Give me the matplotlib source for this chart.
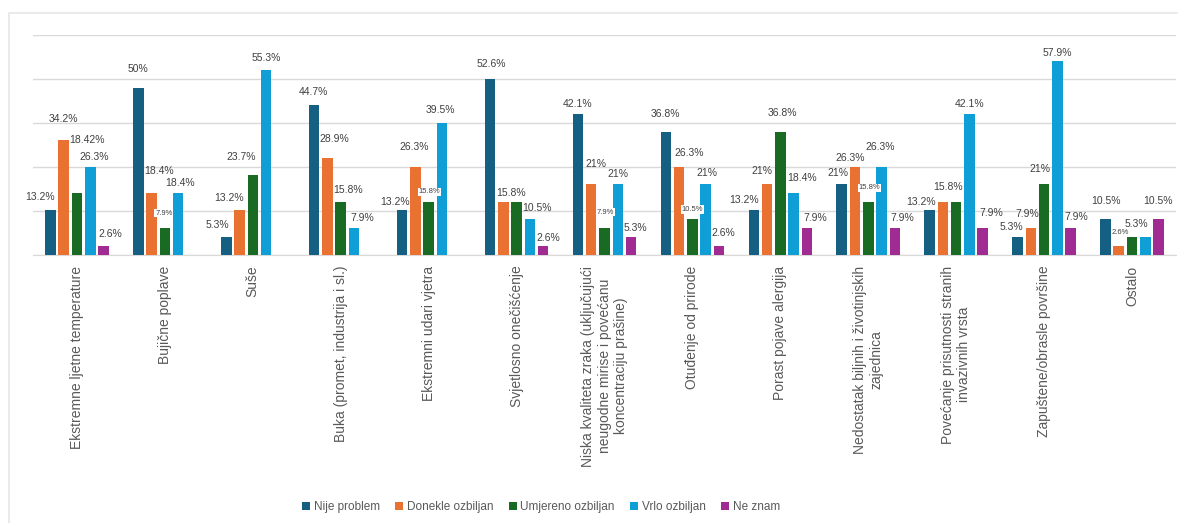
import numpy as np
import matplotlib
matplotlib.use("Agg")
import matplotlib.pyplot as plt
from matplotlib.patches import Rectangle

plt.rcParams['font.family'] = ['Liberation Sans', 'DejaVu Sans']

# --------------------------- data ---------------------------

categories = [
    "Ekstremne ljetne temperature",
    "Bujične poplave",
    "Suše",
    "Buka (promet, industrija i sl.)",
    "Ekstremni udari vjetra",
    "Svjetlosno onečišćenje",
    "Niska kvaliteta zraka (uključujući\nneugodne mirise i povećanu\nkoncentraciju prašine)",
    "Otuđenje od prirode",
    "Porast pojave alergija",
    "Nedostatak biljnih i životinjskih\nzajednica",
    "Povećanje prisutnosti stranih\ninvazivnih vrsta",
    "Zapuštene/obrasle površine",
    "Ostalo",
]

series_names = ["Nije problem", "Donekle ozbiljan", "Umjereno ozbiljan",
                "Vrlo ozbiljan", "Ne znam"]
colors = ["#156082", "#E97132", "#196B24", "#0F9ED5", "#A02B93"]

nije_problem = [13.2, 50, 5.3, 44.7, 13.2, 52.6, 42.1, 36.8, 13.2, 21, 13.2, 5.3, 10.5]
donekle      = [34.2, 18.4, 13.2, 28.9, 26.3, 15.8, 21, 26.3, 21, 26.3, 15.8, 7.9, 2.6]
umjereno     = [18.42, 7.9, 23.7, 15.8, 15.8, 15.8, 7.9, 10.5, 36.8, 15.8, 15.8, 21, 5.3]
vrlo         = [26.3, 18.4, 55.3, 7.9, 39.5, 10.5, 21, 21, 18.4, 26.3, 42.1, 57.9, 5.3]
ne_znam      = [2.6, 0, 0, 0, 0, 2.6, 5.3, 2.6, 7.9, 7.9, 7.9, 7.9, 10.5]

series = [nije_problem, donekle, umjereno, vrlo, ne_znam]

# --------------------- label placement ----------------------
# (series index, category index) of labels not shown / drawn tiny in the original
hidden_labels = {(2, 5), (2, 10), (3, 12)}
tiny_labels = {(2, 1), (2, 4), (2, 6), (2, 7), (2, 9), (1, 12)}

# horizontal nudge and height above the bar top of each label centre, in pixels
label_dx = [
    [-10, 0, -9, -1, -7, 1, 0, 0, -10, -4, -9, -6, 0],
    [0, 7, -11, 7, -1, 8, 5, 10, -5, -5, 5, -4, 2],
    [10, -1, -12, 7, 1, 0, 1, 0, 2, 1, 0, -4, 4],
    [4, 2, 0, 8, -2, 7, 0, 1, 8, -1, 0, 0, 0],
    [7, 0, 0, 0, 0, 5, 4, 4, 8, 7, 9, 6, -1],
]
label_dy = [
    [13, 19, 12, 13, 8, 15, 10, 18, 10, 11, 8, 10, 18],
    [21, 22, 12, 19, 20, 9, 20, 14, 13, 9, 15, 14, 13],
    [53, 15, 18, 12, 10, 13, 16, 10, 19, 14, 13, 15, 13],
    [10, 10, 12, 10, 13, 11, 10, 11, 15, 20, 10, 8, 13],
    [12, 13, 13, 13, 13, 8, 9, 13, 10, 10, 15, 11, 18],
]

# --------------------------- plot ---------------------------

W, H = 1178, 523
fig = plt.figure(figsize=(W / 100, H / 100), dpi=100)
ax = fig.add_axes([33 / W, 1 - 254.5 / H, 1143 / W, 219.5 / H])

# light frame around the chart area
fig.patches.append(Rectangle((9 / W, -0.05), 1.2, 1 - 13 / H + 0.05,
                             transform=fig.transFigure, fill=False,
                             edgecolor="#e6e6e6", lw=1.2))

x = np.arange(len(categories))
step = 0.151
width = 0.12
offsets = (np.arange(5) - 2) * step

for i, (vals, name, col) in enumerate(zip(series, series_names, colors)):
    bars = ax.bar(x + offsets[i], vals, width=width, color=col, label=name, zorder=3)
    for j, (b, v) in enumerate(zip(bars, vals)):
        if v == 0 or (i, j) in hidden_labels:
            continue
        small = (i, j) in tiny_labels
        kw = {}
        if small:
            kw["bbox"] = dict(boxstyle="square,pad=0.1", fc="white", ec="none")
        ax.annotate(f"{v:g}%", (b.get_x() + b.get_width() / 2, v),
                    xytext=(label_dx[i][j], label_dy[i][j]),
                    textcoords="offset pixels", ha="center", va="center",
                    fontsize=5.5 if small else 7.5, color="#404040",
                    zorder=4, **kw)

# gridlines every 5 respondents out of 38
ax.set_ylim(0, 25 * 100 / 38)
ax.set_yticks(np.arange(0, 26, 5) * 100 / 38)
ax.yaxis.grid(True, color="#d9d9d9", lw=1, zorder=0)
ax.tick_params(axis="y", left=False, labelleft=False)
ax.set_xlim(-0.5, len(categories) - 0.5)

ax.set_xticks(x)
ax.set_xticklabels(categories, rotation=90, fontsize=10, color="#595959",
                   ha="center", va="top", multialignment="center")
ax.tick_params(axis="x", length=0, pad=8)

for s in ["top", "right", "left"]:
    ax.spines[s].set_visible(False)
ax.spines["bottom"].set_color("#d9d9d9")

fig.legend(loc="center", bbox_to_anchor=(541 / W, 1 - 507 / H), ncol=5,
           frameon=False, fontsize=8.5, handlelength=0.7, handleheight=0.7,
           handletextpad=0.3, columnspacing=1.3, labelcolor="#595959")

fig.savefig("out.png", dpi=100)
